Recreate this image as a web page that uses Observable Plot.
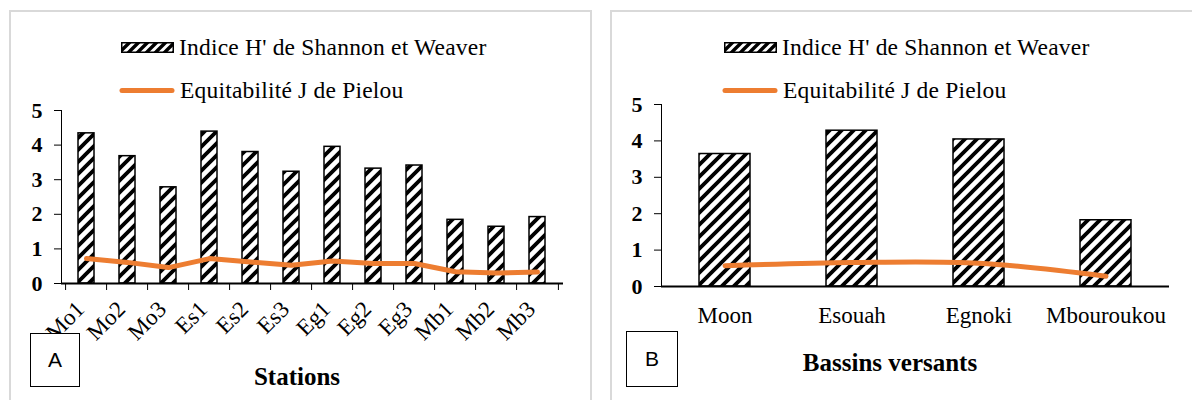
<!DOCTYPE html>
<html>
<head>
<meta charset="utf-8">
<script src="https://cdn.jsdelivr.net/npm/d3@7"></script>
<script src="https://cdn.jsdelivr.net/npm/@observablehq/plot@0.6"></script>
<style>
  body { margin: 0; background: #fff; }
  #root { position: relative; width: 1192px; height: 400px; overflow: hidden; font-family: "Liberation Serif", "Times New Roman", serif; color: #000; background: #fff; }
  .panel { position: absolute; border: 2px solid #d9d9d9; box-sizing: border-box; }
  .leg { position: absolute; display: flex; align-items: center; height: 30px; font-family: "Liberation Serif", "Times New Roman", serif; font-size: 23.5px; letter-spacing: 0.2px; white-space: nowrap; }
  .leg span { font-family: "Liberation Serif", "Times New Roman", serif; }
  .sw { margin-right: 5px; display: block; }
  .box { position: absolute; border: 1px solid #000; background: #fff; font-family: "Liberation Sans", Arial, sans-serif; font-size: 21px; display: flex; align-items: center; justify-content: center; box-sizing: border-box; }
  .title { position: absolute; font-family: "Liberation Serif", "Times New Roman", serif; font-weight: bold; font-size: 25px; transform: translate(-50%, -50%); white-space: nowrap; }
</style>
</head>
<body>
<svg width="0" height="0" style="position:absolute">
  <defs>
    <pattern id="hatch" patternUnits="userSpaceOnUse" width="12" height="12">
      <rect width="12" height="12" fill="#fff"/>
      <path d="M-3,3 L3,-3 M0,12 L12,0 M9,15 L15,9" stroke="#000" stroke-width="3.8"/>
    </pattern>
    <pattern id="hatchS" patternUnits="userSpaceOnUse" width="9" height="9">
      <rect width="9" height="9" fill="#fff"/>
      <path d="M-2,2 L2,-2 M0,9 L9,0 M7,11 L11,7" stroke="#000" stroke-width="3.4"/>
    </pattern>
  </defs>
</svg>
<div id="root"></div>
<script>
// ---- Data ----
const stations = ["Mo1", "Mo2", "Mo3", "Es1", "Es2", "Es3", "Eg1", "Eg2", "Eg3", "Mb1", "Mb2", "Mb3"];
const shannonStations = [4.34, 3.68, 2.78, 4.39, 3.80, 3.23, 3.95, 3.32, 3.41, 1.84, 1.64, 1.92];
const pielouStations = [0.72, 0.61, 0.46, 0.72, 0.62, 0.53, 0.65, 0.58, 0.58, 0.34, 0.30, 0.33];

const bassins = ["Moon", "Esouah", "Egnoki", "Mbouroukou"];
const shannonBassins = [3.64, 4.28, 4.04, 1.82];
const pielouBassins = [0.57, 0.66, 0.64, 0.28];

const yTicks = [0, 1, 2, 3, 4, 5];
const legendBar = "Indice H' de Shannon et Weaver";
const legendLine = "Equitabilité J de Pielou";
const titleA = "Stations";
const titleB = "Bassins versants";

const root = document.getElementById("root");

function makePlot({cats, bars, line, svgLeft, width, marginLeft, marginRight, marginTop, marginBottom, rotate, curve, edgeTicks, labelPadding, labelSize, labelDx}) {
  const data = cats.map((c, i) => ({cat: c, h: bars[i], j: line[i]}));
  const step = (width - marginLeft - marginRight) / cats.length;
  const marks = [
    Plot.barY(data, {x: "cat", y: "h", fill: "url(#hatch)", stroke: "#000", strokeWidth: 1.5}),
    Plot.frame({anchor: "left", stroke: "#000", strokeWidth: 1}),
    Plot.axisY({ticks: yTicks, tickSize: 7, tickPadding: 12, fontSize: 22, fontWeight: "bold", tickFormat: d => d, stroke: "#000", label: null}),
    Plot.lineY(data, {x: "cat", y: "j", stroke: "#ED7D31", strokeWidth: 5, strokeLinecap: "round", strokeLinejoin: "round", curve}),
    Plot.ruleY([0], {stroke: "#000", strokeWidth: 2}),
    Plot.axisX({tickSize: 0, tickPadding: labelPadding, fontSize: labelSize, tickRotate: rotate, dx: labelDx, label: null})
  ];
  if (edgeTicks) {
    marks.push(Plot.axisX({tickSize: 7, tickFormat: () => "", dx: -step / 2, stroke: "#000", label: null}));
    marks.push(Plot.axisX({ticks: [cats[cats.length - 1]], tickSize: 7, tickFormat: () => "", dx: step / 2, stroke: "#000", label: null}));
  }
  const svg = Plot.plot({
    width, height: 400,
    marginLeft, marginRight, marginTop, marginBottom,
    style: {fontFamily: "Liberation Serif, Times New Roman, serif", color: "#000", background: "transparent", overflow: "visible"},
    x: {type: "band", domain: cats, paddingInner: 0.6, paddingOuter: 0.3, axis: null, label: null},
    y: {domain: [0, 5], axis: null, label: null},
    marks
  });
  svg.style.left = svgLeft + "px";
  svg.style.position = "absolute";
  svg.style.top = "0px";
  return svg;
}

function addPanel({left, width, letter, title, titleX, titleY, boxLeft, boxTop, boxW, boxH, legLeft, plotArgs}) {
  const p = document.createElement("div");
  p.className = "panel";
  Object.assign(p.style, {left: left + "px", top: "10px", width: width + "px", height: "420px"});
  root.appendChild(p);

  root.appendChild(makePlot(plotArgs));

  // legend
  const l1 = document.createElement("div");
  l1.className = "leg";
  Object.assign(l1.style, {left: legLeft + "px", top: (47 - 15) + "px"});
  l1.innerHTML = `<svg class="sw" width="53" height="11"><rect x="0.75" y="0.75" width="51.5" height="9.5" fill="url(#hatchS)" stroke="#000" stroke-width="1.5"/></svg><span>${legendBar}</span>`;
  root.appendChild(l1);
  const l2 = document.createElement("div");
  l2.className = "leg";
  Object.assign(l2.style, {left: (legLeft - 2) + "px", top: (90 - 15) + "px"});
  l2.innerHTML = `<svg class="sw" width="56" height="7"><line x1="3" y1="3.5" x2="53" y2="3.5" stroke="#ED7D31" stroke-width="5" stroke-linecap="round"/></svg><span>${legendLine}</span>`;
  root.appendChild(l2);

  const b = document.createElement("div");
  b.className = "box";
  Object.assign(b.style, {left: boxLeft + "px", top: boxTop + "px", width: boxW + "px", height: boxH + "px"});
  b.textContent = letter;
  root.appendChild(b);

  const t = document.createElement("div");
  t.className = "title";
  Object.assign(t.style, {left: titleX + "px", top: titleY + "px"});
  t.textContent = title;
  root.appendChild(t);
}

addPanel({
  left: 9, width: 583, letter: "A", title: titleA, titleX: 297, titleY: 377,
  boxLeft: 30, boxTop: 333, boxW: 50, boxH: 54, legLeft: 121,
  plotArgs: {cats: stations, bars: shannonStations, line: pielouStations, svgLeft: 0, width: 596,
    marginLeft: 61, marginRight: 33, marginTop: 110, marginBottom: 117, rotate: -45, curve: "linear",
    edgeTicks: true, labelPadding: 22, labelSize: 23, labelDx: -6}
});
addPanel({
  left: 610, width: 600, letter: "B", title: titleB, titleX: 890, titleY: 363,
  boxLeft: 626, boxTop: 331, boxW: 52, boxH: 56, legLeft: 724,
  plotArgs: {cats: bassins, bars: shannonBassins, line: pielouBassins, svgLeft: 600, width: 592,
    marginLeft: 61, marginRight: 23, marginTop: 104, marginBottom: 114, rotate: 0, curve: "catmull-rom",
    edgeTicks: false, labelPadding: 20, labelSize: 23, labelDx: 0}
});
</script>
</body>
</html>
